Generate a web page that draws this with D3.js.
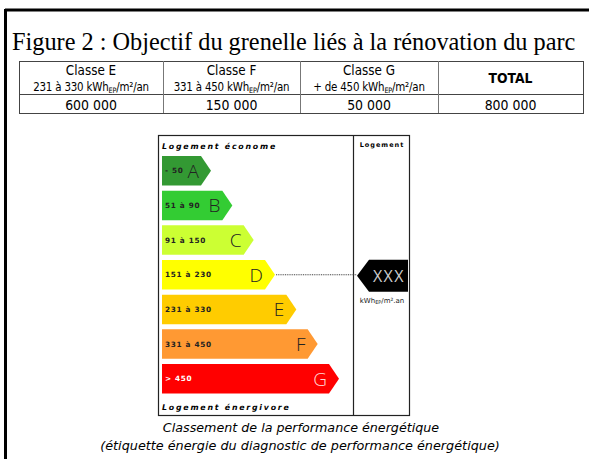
<!DOCTYPE html>
<html>
<head>
<meta charset="utf-8">
<script src="https://cdn.jsdelivr.net/npm/d3@7"></script>
<style>
  body { margin: 0; background: #fff; }
  svg { display: block; }
</style>
</head>
<body>
<div id="chart"></div>
<script>
// dimensions
var width = 589;
var height = 459;

// données du tableau
var colonnes = ["Classe E", "Classe F", "Classe G", "TOTAL"];
var sousTitres = [["231 à 330 kWh", "/m²/an"], ["331 à 450 kWh", "/m²/an"], ["+ de 450 kWh", "/m²/an"], null];
var objectifs = ["600 000", "150 000", "50 000", "800 000"];

// données de l'étiquette
var classes = ["A", "B", "C", "D", "E", "F", "G"];
var plages = ["- 50", "51 à 90", "91 à 150", "151 à 230", "231 à 330", "331 à 450", "> 450"];
var couleurs = ["#339933", "#33cc33", "#ccff33", "#ffff00", "#ffcc00", "#ff9933", "#ff0000"];
var classeLogement = "D";
var valeurLogement = "XXX";

var svg = d3.select("#chart")
  .append("svg")
  .attr("width", width)
  .attr("height", height);

// cadre extérieur (haut + gauche)
svg.append("line")
  .attr("x1", 5).attr("x2", width)
  .attr("y1", 10).attr("y2", 10)
  .attr("stroke", "#000").attr("stroke-width", 3);
svg.append("line")
  .attr("x1", 5.5).attr("x2", 5.5)
  .attr("y1", 9).attr("y2", height)
  .attr("stroke", "#000").attr("stroke-width", 3);

// titre
svg.append("text")
  .attr("x", 12)
  .attr("y", 50)
  .style("font-family", "'Liberation Serif', 'Times New Roman', serif")
  .style("font-size", "24.3px")
  .text("Figure 2 : Objectif du grenelle liés à la rénovation du parc");

//********************************************************//
//                        Tableau                          //
//********************************************************//
var tableX = d3.scaleOrdinal()
  .domain(colonnes)
  .range([[19, 163], [163, 300], [300, 438], [438, 583]]);
var tableTop = 61, tableMid = 94, tableBottom = 113;
var sansTab = "'DejaVu Sans', Verdana, sans-serif";

var tableau = svg.append("g");
tableau.append("rect")
  .attr("x", 19.5).attr("y", tableTop + 0.5)
  .attr("width", 583 - 19).attr("height", tableBottom - tableTop)
  .attr("fill", "none").attr("stroke", "#444");
tableau.append("line")
  .attr("x1", 19.5).attr("x2", 583.5)
  .attr("y1", tableMid + 0.5).attr("y2", tableMid + 0.5)
  .attr("stroke", "#444");

// texte du tableau un peu étiré verticalement, comme l'original
function texteTab(x, yy, taille) {
  return tableau.append("text")
    .attr("transform", "translate(" + x + "," + yy + ") scale(1,1.15)")
    .attr("text-anchor", "middle")
    .style("font-family", sansTab)
    .style("font-size", taille + "px");
}

colonnes.forEach(function (c, i) {
  var r = tableX(c);
  var cx = (r[0] + r[1]) / 2;
  if (i > 0) {
    tableau.append("line")
      .attr("x1", r[0] + 0.5).attr("x2", r[0] + 0.5)
      .attr("y1", tableTop).attr("y2", tableBottom)
      .attr("stroke", "#777");
  }
  if (sousTitres[i]) {
    texteTab(cx, 75, 12).text(c);
    var st = texteTab(cx, 91, 10.3).style("letter-spacing", "-0.2px");
    st.append("tspan").text(sousTitres[i][0]);
    st.append("tspan").attr("dy", 2).style("font-size", "6.5px").text("EP");
    st.append("tspan").attr("dy", -2).text(sousTitres[i][1]);
  } else {
    texteTab(cx, 83, 12.4).style("font-weight", "bold").text(c);
  }
  texteTab(cx, 109.5, 12.5).text(objectifs[i]);
});

//********************************************************//
//                  Étiquette énergie                     //
//********************************************************//
var boite = { left: 158.5, top: 135.5, sep: 353.5, right: 409.5, bottom: 415.5 };

svg.append("rect")
  .attr("x", boite.left).attr("y", boite.top)
  .attr("width", boite.right - boite.left)
  .attr("height", boite.bottom - boite.top)
  .attr("fill", "none").attr("stroke", "#222").attr("stroke-width", 1.2);
svg.append("line")
  .attr("x1", boite.sep).attr("x2", boite.sep)
  .attr("y1", boite.top).attr("y2", boite.bottom)
  .attr("stroke", "#222").attr("stroke-width", 1.2);

var petit = "'DejaVu Sans', Verdana, sans-serif";
svg.append("text")
  .attr("x", 162).attr("y", 149)
  .style("font-family", petit)
  .style("font-size", "7.8px")
  .style("font-weight", "bold")
  .style("font-style", "italic")
  .style("letter-spacing", "1.8px")
  .text("Logement économe");
svg.append("text")
  .attr("x", 162).attr("y", 410)
  .style("font-family", petit)
  .style("font-size", "7.8px")
  .style("font-weight", "bold")
  .style("font-style", "italic")
  .style("letter-spacing", "1.8px")
  .text("Logement énergivore");
svg.append("text")
  .attr("x", 382).attr("y", 147)
  .attr("text-anchor", "middle")
  .style("font-family", petit)
  .style("font-size", "6.5px")
  .style("font-weight", "bold")
  .style("letter-spacing", "1px")
  .text("Logement");

// échelles
var y = d3.scaleBand()
  .domain(classes)
  .range([156, 393.5])
  .paddingInner(0.15);
var pointe = d3.scaleLinear()
  .domain([0, classes.length - 1])
  .range([211, 339]);
var xGauche = 162;
var profondeur = 10;

var barres = svg.append("g").selectAll("g")
  .data(classes)
  .enter()
  .append("g");

barres.append("path")
  .attr("d", function (d, i) {
    var t = y(d), h = y.bandwidth(), xt = pointe(i);
    return "M" + xGauche + "," + t +
      "L" + (xt - profondeur) + "," + t +
      "L" + xt + "," + (t + h / 2) +
      "L" + (xt - profondeur) + "," + (t + h) +
      "L" + xGauche + "," + (t + h) + "Z";
  })
  .attr("fill", function (d, i) { return couleurs[i]; });

barres.append("text")
  .attr("x", xGauche + 3)
  .attr("y", function (d) { return y(d) + y.bandwidth() / 2 + 2.5; })
  .style("font-family", petit)
  .style("font-size", "7.3px")
  .style("font-weight", "bold")
  .style("letter-spacing", "0.7px")
  .attr("fill", function (d) { return d === "G" ? "#fff" : "#222"; })
  .text(function (d, i) { return plages[i]; });

barres.append("text")
  .attr("x", function (d, i) { return pointe(i) - profondeur - 2; })
  .attr("y", function (d) { return y(d) + y.bandwidth() / 2 + 7; })
  .attr("text-anchor", "end")
  .style("font-family", "'Open Sans', 'DejaVu Sans', sans-serif")
  .style("font-size", "19px")
  .style("font-weight", "300")
  .attr("fill", function (d) { return d === "G" ? "#ffd6d6" : "#222"; })
  .text(function (d) { return d; });

// indicateur du logement
var iD = classes.indexOf(classeLogement);
var yD = y(classeLogement) + y.bandwidth() / 2;
svg.append("line")
  .attr("x1", pointe(iD) + 1).attr("x2", 357)
  .attr("y1", yD).attr("y2", yD)
  .attr("stroke", "#444").attr("stroke-width", 1)
  .attr("stroke-dasharray", "1,0.8");

var fT = yD - 15, fB = yD + 17;
svg.append("path")
  .attr("d", "M357," + (fT + fB) / 2 + "L369," + fT + "L408," + fT + "L408," + fB + "L369," + fB + "Z")
  .attr("fill", "#000");
svg.append("text")
  .attr("x", 389).attr("y", (fT + fB) / 2 + 6)
  .attr("text-anchor", "middle")
  .style("font-family", "'Open Sans', 'DejaVu Sans', sans-serif")
  .style("font-size", "16px")
  .style("letter-spacing", "1.5px")
  .attr("fill", "#ccc")
  .text(valeurLogement);
var unite = svg.append("text")
  .attr("x", 382).attr("y", fB + 11)
  .attr("text-anchor", "middle")
  .style("font-family", petit)
  .style("font-size", "7px")
  .attr("fill", "#222");
unite.append("tspan").text("kWh");
unite.append("tspan").attr("dy", 1.5).style("font-size", "5px").text("EP");
unite.append("tspan").attr("dy", -1.5).text("/m².an");

// légende
svg.append("text")
  .attr("x", 301).attr("y", 432)
  .attr("text-anchor", "middle")
  .style("font-family", "'DejaVu Sans', Verdana, sans-serif")
  .style("font-size", "12.7px")
  .style("font-style", "italic")
  .text("Classement de la performance énergétique");
svg.append("text")
  .attr("x", 300).attr("y", 450)
  .attr("text-anchor", "middle")
  .style("font-family", "'DejaVu Sans', Verdana, sans-serif")
  .style("font-size", "12.8px")
  .style("font-style", "italic")
  .text("(étiquette énergie du diagnostic de performance énergétique)");
</script>
</body>
</html>
